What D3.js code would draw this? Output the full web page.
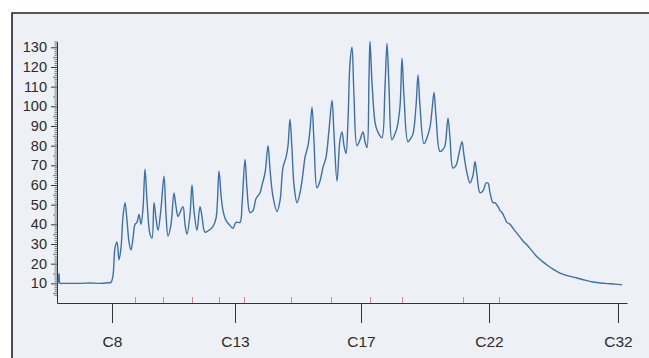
<!DOCTYPE html>
<meta charset="utf-8">
<html>
<head>
  <script src="https://d3js.org/d3.v7.min.js" charset="utf-8"></script>
</head>
<style>
* { font-family: "Liberation Sans", Arial, Helvetica, sans-serif; }
body { margin: 0; background: white; }
.axis text { fill: #2b2b2b; }
.yaxis text { font-size: 14.5px; }
.xaxis text { font-size: 15.5px; }
.axis path, .axis line { stroke: #333; }
.minor line { stroke: #777; }
.marker line { stroke: #d98a8a; }
</style>
<body>
<div id="container"></div>
<script>
// retention time (min) and detector response
var rt = [0, 0.1, 0.2, 0.3, 0.5, 1.3, 2.3, 3.3, 4.3, 5.1, 5.4, 5.6, 5.8, 6.0, 6.2, 6.4, 6.6, 6.8, 7.0, 7.2,
  7.4, 7.6, 7.8, 8.0, 8.2, 8.4, 8.6, 8.8, 9.0, 9.3, 9.5, 9.7, 9.9, 10.1, 10.4, 10.7, 10.9, 11.1, 11.4, 11.7,
  11.9, 12.1, 12.3, 12.6, 12.8, 13.0, 13.3, 13.5, 13.7, 14.0, 14.3, 14.5, 14.8, 15.2, 15.6, 15.9, 16.2, 16.4, 16.6, 16.9,
  17.2, 17.6, 17.9, 18.3, 18.5, 18.8, 19.0, 19.3, 19.6, 19.9, 20.3, 20.5, 20.8, 21.1, 21.3, 21.6, 22.0, 22.3, 22.6, 22.9,
  23.1, 23.3, 23.5, 23.7, 24.0, 24.3, 24.6, 24.8, 25.1, 25.3, 25.5, 25.7, 26.0, 26.3, 26.6, 26.9, 27.2, 27.5, 27.7, 28.0,
  28.3, 28.5, 28.7, 28.9, 29.1, 29.3, 29.5, 29.7, 30.0, 30.3, 30.6, 30.8, 31.0, 31.2, 31.3, 31.5, 31.8, 32.0, 32.3, 32.5,
  32.8, 33.0, 33.2, 33.5, 33.8, 34.0, 34.3, 34.5, 34.7, 35.1, 35.4, 35.6, 35.9, 36.1, 36.3, 36.7, 37.0, 37.3, 37.5, 37.7,
  37.9, 38.3, 38.6, 38.8, 39.1, 39.3, 39.6, 39.9, 40.2, 40.5, 40.7, 41.0, 41.3, 41.6, 41.8, 42.0, 42.3, 42.6, 42.9, 43.1,
  43.3, 43.6, 43.8, 44.1, 44.3, 44.5, 44.8, 45.0, 45.3, 45.6, 45.9, 46.3, 46.6, 47.0, 47.5, 48.0, 48.5, 49.0, 49.6, 50.3,
  51.1, 52.0, 52.8, 53.6, 54.8, 55.8, 56.5];
var signal = [11, 10, 15, 10, 10, 10, 10, 10.2, 10, 10.3, 10.5, 14, 28, 31, 22, 28, 44, 51, 42, 31,
  27, 33, 40, 41, 45, 40, 48, 68, 52, 35, 33, 51, 43, 37, 48, 64.5, 45, 34, 40, 56,
  49, 44, 46, 49, 40, 35, 45, 60, 47, 37, 49, 44, 36, 37, 39, 43, 67, 55, 47, 42,
  40, 38, 41, 41, 50, 73, 58, 46, 47, 53, 56, 60, 66, 80, 68, 54, 46.5, 52, 69, 74,
  80, 93.5, 78, 60, 51, 56, 66, 74, 80, 88, 99.6, 82, 58.5, 62, 69, 74, 88, 103, 86, 62,
  83, 87, 80, 76, 93, 122, 130, 105, 80, 83, 87, 82, 79, 115, 133, 112, 92, 88, 85, 84,
  110, 132, 110, 83, 86, 89, 100, 124.5, 105, 82, 84, 86, 100, 116, 100, 81, 84, 89.5, 98, 107,
  95, 77, 78, 80, 94, 84, 68.6, 70, 76, 82, 75, 66, 61, 65, 72, 65, 56, 57, 61, 61,
  56, 51, 51, 49, 47, 46, 43, 41, 40, 38, 36, 33.5, 31.5, 29.5, 26.5, 23.5, 21.3, 19.3, 17.2, 15.2,
  13.8, 12.7, 11.6, 10.7, 10, 9.6, 9.2];

var alkaneTimes = [5.5, 17.8, 30.4, 43.2, 56.1];
var alkaneLabels = ["C8", "C13", "C17", "C22", "C32"];
var markerTimes = [7.8, 10.6, 13.5, 16.2, 18.7, 23.4, 27.4, 31.3, 34.5, 40.6, 44.2];
var yTicks = [10, 20, 30, 40, 50, 60, 70, 80, 90, 100, 110, 120, 130];

var width = 649, height = 358;
var svg = d3.select("#container").append("svg")
  .attr("width", width)
  .attr("height", height);

// panel
svg.append("rect")
  .attr("x", 12).attr("y", 13)
  .attr("width", width - 12).attr("height", height - 13)
  .attr("fill", "#edf1f5");
svg.append("path")
  .attr("d", "M12," + height + "V13H" + width)
  .attr("fill", "none")
  .attr("stroke", "#222")
  .attr("stroke-width", 1.6);

var xScale = d3.scaleLinear().domain([0, 57]).range([57, 627]);
var yScale = d3.scaleLinear().domain([0, 133]).range([303, 41.4]);

// y ruler
var minorVals = d3.range(4, 134).filter(v => v % 10 != 0);
svg.append("g")
  .attr("class", "minor")
  .attr("transform", "translate(57,0)")
  .call(d3.axisLeft(yScale).tickValues(minorVals.filter(v => v % 5 != 0)).tickSize(2.5).tickFormat(""))
  .call(g => g.select(".domain").remove());
svg.append("g")
  .attr("class", "minor")
  .attr("transform", "translate(57,0)")
  .call(d3.axisLeft(yScale).tickValues(minorVals.filter(v => v % 5 == 0)).tickSize(4).tickFormat(""))
  .call(g => g.select(".domain").remove());

svg.append("g")
  .attr("class", "axis yaxis")
  .attr("transform", "translate(57,0)")
  .call(d3.axisLeft(yScale).tickValues(yTicks).tickSize(6).tickPadding(4).tickSizeOuter(0));

// red markers
svg.append("g")
  .attr("class", "marker")
  .attr("transform", "translate(0,303)")
  .call(d3.axisTop(xScale).tickValues(markerTimes).tickSize(6).tickFormat(""))
  .call(g => g.select(".domain").remove());

svg.append("g")
  .attr("class", "axis xaxis")
  .attr("transform", "translate(0,303)")
  .call(d3.axisBottom(xScale).tickValues(alkaneTimes).tickSize(20).tickPadding(13).tickSizeOuter(0)
    .tickFormat((d, i) => alkaneLabels[i]));

var line = d3.line()
  .x((d, i) => xScale(rt[i]))
  .y(d => yScale(d))
  .curve(d3.curveCatmullRom.alpha(0.5));

svg.append("path")
  .datum(signal)
  .attr("d", line)
  .attr("fill", "none")
  .attr("stroke", "#3d6fab")
  .attr("stroke-width", 1.4);
</script>
</body>
</html>
